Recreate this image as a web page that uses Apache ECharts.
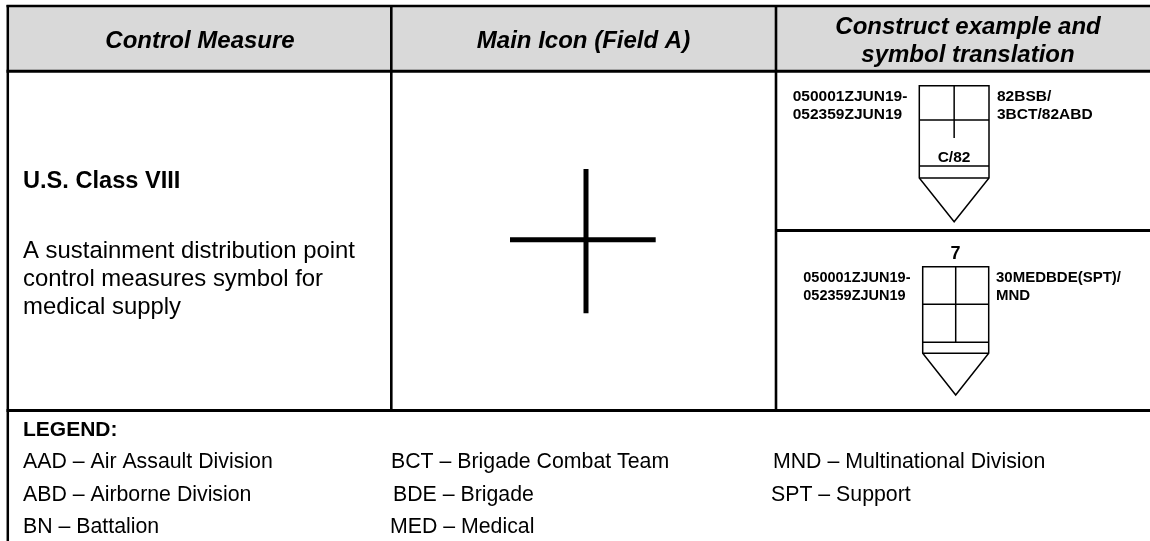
<!DOCTYPE html>
<html>
<head>
<meta charset="utf-8">
<style>html,body{margin:0;padding:0;background:#fff}#main{width:1150px;height:541px}</style>
<script src="https://cdn.jsdelivr.net/npm/echarts@6/dist/echarts.min.js"></script>
</head>
<body>
<div id="main"></div>
<script>
// table content
let headers = ['Control Measure', 'Main Icon (Field A)', 'Construct example and\nsymbol translation'];
let controlName = 'U.S. Class VIII';
let controlDesc = ['A sustainment distribution point', 'control measures symbol for', 'medical supply'];
let legendTitle = 'LEGEND:';
let legendCol1 = ['AAD – Air Assault Division', 'ABD – Airborne Division', 'BN – Battalion'];
let legendCol2 = ['BCT – Brigade Combat Team', 'BDE – Brigade', 'MED – Medical'];
let legendCol3 = ['MND – Multinational Division', 'SPT – Support'];
let dtg = ['050001ZJUN19-', '052359ZJUN19'];
let unitTop = ['82BSB/', '3BCT/82ABD'];
let unitBottom = ['30MEDBDE(SPT)/', 'MND'];
let fieldTop = 'C/82';
let fieldBottom = '7';

const FONT = '"Liberation Sans", Arial, sans-serif';
let g = [];

function line(x1, y1, x2, y2, w) {
    g.push({type: 'line', shape: {x1: x1, y1: y1, x2: x2, y2: y2}, style: {stroke: '#000', lineWidth: w}});
}
function label(x, y, text, size, opt) {
    opt = opt || {};
    g.push({
        type: 'text', x: x, y: y,
        style: {
            text: text, fill: '#000', font: (opt.font || '') + ' ' + size + 'px ' + FONT,
            align: opt.align || 'left', verticalAlign: 'middle', lineHeight: opt.lh
        }
    });
}
function symbol(l, r, top, mid, base, neck, tip, vEnd) {
    let cx = (l + r) / 2;
    g.push({
        type: 'polygon',
        shape: {points: [[l, top], [r, top], [r, neck], [cx, tip], [l, neck]]},
        style: {fill: '#fff', stroke: '#000', lineWidth: 1.5, lineJoin: 'miter'}
    });
    line(l, mid, r, mid, 1.5);
    line(l, base, r, base, 1.5);
    line(l, neck, r, neck, 1.5);
    line(cx, top, cx, vEnd, 1.5);
}

// header shading
g.push({type: 'rect', shape: {x: 7, y: 6, width: 1143, height: 65}, style: {fill: '#d9d9d9'}});

// table rules
line(6.5, 6, 1150, 6, 2.5);
line(6.5, 71.3, 1150, 71.3, 3);
line(776, 230.5, 1150, 230.5, 3);
line(6.5, 410.5, 1150, 410.5, 3);
line(7.8, 5, 7.8, 541, 2.5);
line(391.3, 5, 391.3, 410, 2.6);
line(776, 5, 776, 410, 2.6);

// header text
label(200, 41, headers[0], 24, {font: 'italic bold', align: 'center'});
label(583.5, 41, headers[1], 24, {font: 'italic bold', align: 'center'});
label(968, 41, headers[2], 24, {font: 'italic bold', align: 'center', lh: 28});

// first column
label(23, 181, controlName, 23.6, {font: 'bold'});
controlDesc.forEach(function (t, i) {
    label(23, 251 + i * 28, t, 23.9);
});

// main icon
line(586, 169, 586, 313.3, 5);
line(510, 239.8, 655.7, 239.8, 5);

// construct examples
symbol(919.3, 989, 85.7, 120, 166, 178, 221.7, 138);
label(954, 157.5, fieldTop, 15.5, {font: 'bold', align: 'center'});
dtg.forEach(function (t, i) {
    label(792.7, 97 + i * 18, t, 15.5, {font: 'bold'});
});
unitTop.forEach(function (t, i) {
    label(997, 97 + i * 18, t, 15.5, {font: 'bold'});
});

symbol(922.7, 988.7, 266.7, 304.3, 342.3, 353.3, 395, 342.3);
label(955.5, 254.5, fieldBottom, 18, {font: 'bold', align: 'center'});
dtg.forEach(function (t, i) {
    label(803.3, 278 + i * 18, t, 14.5, {font: 'bold'});
});
unitBottom.forEach(function (t, i) {
    label(996, 278 + i * 18, t, 15, {font: 'bold'});
});

// legend
label(23, 430.5, legendTitle, 21, {font: 'bold'});
let legendY = [462.5, 495.5, 527.5];
legendCol1.forEach(function (t, i) {
    label(23, legendY[i], t, 21.3);
});
let col2X = [391, 393, 390];
legendCol2.forEach(function (t, i) {
    label(col2X[i], legendY[i], t, 21.3);
});
let col3X = [773, 771];
legendCol3.forEach(function (t, i) {
    label(col3X[i], legendY[i], t, 21.3);
});

let chart = echarts.init(document.getElementById('main'), null, {renderer: 'canvas'});
chart.setOption({
    animation: false,
    backgroundColor: '#fff',
    graphic: {elements: g}
});
</script>
</body>
</html>
